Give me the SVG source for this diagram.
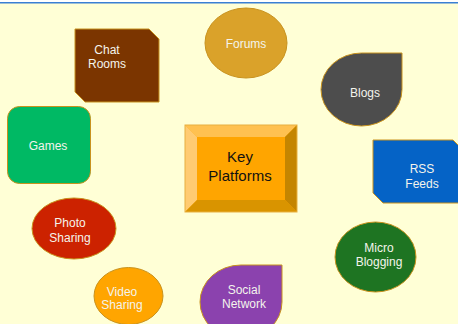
<svg xmlns="http://www.w3.org/2000/svg" width="458" height="324" viewBox="0 0 458 324">
  <style>
    .lbl { font-family: "Liberation Sans", Arial, sans-serif; font-size: 12px; fill: #F4F4EC; text-anchor: middle; }
    .key { font-family: "Liberation Sans", Arial, sans-serif; font-size: 15px; fill: #111111; text-anchor: middle; }
    .edge { stroke: #C8921E; stroke-width: 1; }
  </style>
  <!-- page background and top rule -->
  <rect x="0" y="0" width="458" height="324" fill="#FFFFD6"/>
  <rect x="0" y="0" width="458" height="2" fill="#FFFFFF"/>
  <rect x="0" y="2" width="458" height="1.5" fill="#3A7FD4"/>

  <g id="connectors"></g>

  <!-- centre node: bevelled button -->
  <g id="key-platforms">
    <rect x="185" y="125" width="112" height="87" fill="#FFA500"/>
    <polygon points="185,125 297,125 285,137 197,137" fill="#FFC150"/>
    <polygon points="185,125 197,137 197,200 185,212" fill="#FFCB72"/>
    <polygon points="297,125 297,212 285,200 285,137" fill="#C48500"/>
    <polygon points="185,212 197,200 285,200 297,212" fill="#D99400"/>
    <rect x="185" y="125" width="112" height="87" fill="none" stroke="#E8B040" stroke-width="1"/>
    <text class="key" x="240" y="162">Key</text>
    <text class="key" x="240" y="181">Platforms</text>
  </g>

  <g id="forums">
    <ellipse class="edge" cx="246" cy="43" rx="41" ry="35" fill="#DAA22A"/>
    <text class="lbl" x="246" y="48">Forums</text>
  </g>

  <g id="chat-rooms">
    <polygon class="edge" points="75,29 149,29 159,39 159,102 85,102 75,92" fill="#7B3500"/>
    <text class="lbl" x="107" y="54">Chat</text>
    <text class="lbl" x="107" y="68">Rooms</text>
  </g>

  <g id="blogs">
    <path class="edge" d="M321,89.5 A40.5,36.5 0 0 1 361.5,53 H402 V89.5 A40.5,36.5 0 0 1 361.5,126 A40.5,36.5 0 0 1 321,89.5 Z" fill="#4D4D4D"/>
    <text class="lbl" x="365" y="97">Blogs</text>
  </g>

  <g id="rss-feeds">
    <polygon class="edge" points="373,140 453,140 463,150 463,203 383,203 373,193" fill="#0563C6"/>
    <text class="lbl" x="422" y="173">RSS</text>
    <text class="lbl" x="422" y="188">Feeds</text>
  </g>

  <g id="games">
    <rect class="edge" x="7.5" y="106.5" width="83" height="77" rx="12" ry="12" fill="#00B964"/>
    <text class="lbl" x="48" y="150">Games</text>
  </g>

  <g id="photo-sharing">
    <ellipse class="edge" cx="74" cy="228.5" rx="42" ry="30.5" fill="#CC2200"/>
    <text class="lbl" x="70" y="227">Photo</text>
    <text class="lbl" x="70" y="242">Sharing</text>
  </g>

  <g id="micro-blogging">
    <ellipse class="edge" cx="375.5" cy="257" rx="40.5" ry="35" fill="#1E7422"/>
    <text class="lbl" x="379" y="252">Micro</text>
    <text class="lbl" x="379" y="266">Blogging</text>
  </g>

  <g id="video-sharing">
    <ellipse class="edge" cx="128.5" cy="296" rx="34.5" ry="28.5" fill="#FFA500"/>
    <text class="lbl" x="122" y="296">Video</text>
    <text class="lbl" x="122" y="309">Sharing</text>
  </g>

  <g id="social-network">
    <path class="edge" d="M200,302 A41,37 0 0 1 241,265 H282 V302 A41,37 0 0 1 241,339 A41,37 0 0 1 200,302 Z" fill="#8B42AE"/>
    <text class="lbl" x="244" y="294">Social</text>
    <text class="lbl" x="244" y="308">Network</text>
  </g>
</svg>
